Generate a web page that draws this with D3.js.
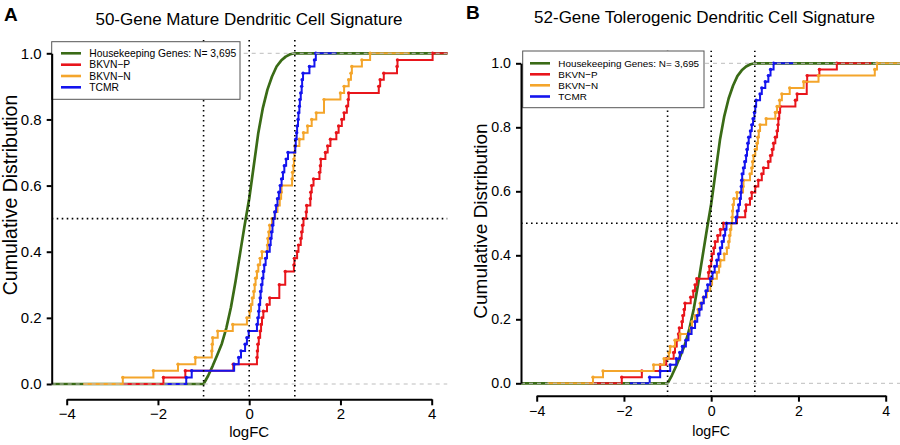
<!DOCTYPE html>
<html><head><meta charset="utf-8">
<script src="https://cdn.jsdelivr.net/npm/d3@7"></script>
<style>
body{margin:0;background:#fff}
svg{display:block}
text{font-family:"Liberation Sans",Arial,Helvetica,sans-serif;fill:#000}
</style>
</head><body>
<svg id="c" width="900" height="445"></svg>
<script>
// ---------------- data ----------------
const panelLetters = ["A", "B"];
const panelTitles = ["50-Gene Mature Dendritic Cell Signature", "52-Gene Tolerogenic Dendritic Cell Signature"];
const legendLabels = ["Housekeeping Genes: N= 3,695", "BKVN\u2212P", "BKVN\u2212N", "TCMR"];
const xAxisLabel = "logFC";
const yAxisLabel = "Cumulative Distribution";
const xTicks = [-4, -2, 0, 2, 4];
const yTicks = [0, 0.2, 0.4, 0.6, 0.8, 1.0];
const refLinesX = [-1, 0, 1];
const refLineY = [0.5];
const gridLinesY = [0, 1];

const housekeepingX = [-1.0, -0.9, -0.8, -0.7, -0.6, -0.5, -0.4, -0.3, -0.2, -0.1, 0.0, 0.1, 0.2, 0.3, 0.4, 0.5, 0.6, 0.7, 0.8, 0.9, 1.0];
const housekeepingY = [0, 0.025, 0.055, 0.088, 0.122, 0.17, 0.232, 0.31, 0.395, 0.48, 0.56, 0.66, 0.76, 0.835, 0.89, 0.93, 0.96, 0.978, 0.99, 0.997, 1.0];

// Panel A: 50-gene mature DC signature, logFC per gene
const matureBKVNP = [-1.88,-1.40,-0.35,0.17,0.18,0.19,0.21,0.24,0.26,0.28,0.31,0.39,0.45,0.66,0.66,0.79,0.79,0.98,0.99,1.05,1.08,1.13,1.15,1.17,1.19,1.25,1.26,1.34,1.35,1.37,1.41,1.54,1.56,1.57,1.67,1.72,1.78,1.91,1.96,2.03,2.08,2.14,2.17,2.18,2.84,2.87,2.95,3.24,3.25,4.02];
const matureBKVNN = [-2.77,-2.10,-1.56,-1.18,-0.82,-0.81,-0.80,-0.69,-0.36,-0.05,0.01,0.04,0.07,0.10,0.12,0.14,0.17,0.20,0.24,0.28,0.40,0.41,0.43,0.45,0.50,0.57,0.62,0.67,0.70,0.71,0.94,0.95,0.97,0.98,0.99,1.00,1.10,1.19,1.28,1.37,1.47,1.64,1.64,2.00,2.08,2.18,2.23,2.25,2.47,2.65];
const matureTCMR = [-1.38,-1.26,-0.33,-0.23,-0.18,-0.09,-0.05,-0.01,0.17,0.19,0.21,0.22,0.24,0.25,0.27,0.29,0.31,0.33,0.36,0.39,0.45,0.47,0.49,0.51,0.53,0.56,0.59,0.62,0.65,0.68,0.71,0.74,0.77,0.81,0.85,1.01,1.02,1.04,1.05,1.07,1.08,1.10,1.11,1.13,1.15,1.16,1.18,1.32,1.43,1.46];

// Panel B: 52-gene tolerogenic DC signature, logFC per gene
const tolBKVNP = [-2.05,-1.59,-1.17,-1.03,-0.86,-0.83,-0.79,-0.75,-0.73,-0.67,-0.65,-0.62,-0.60,-0.47,-0.41,-0.37,-0.33,-0.06,-0.04,0.00,0.02,0.06,0.09,0.15,0.21,0.28,0.59,0.78,0.80,0.89,0.93,1.01,1.08,1.16,1.20,1.31,1.36,1.40,1.43,1.47,1.51,1.53,1.54,1.56,1.58,1.93,1.97,2.19,2.19,2.20,2.48,2.88];
const tolBKVNN = [-2.71,-2.48,-1.32,-1.08,-0.97,-0.94,-0.83,-0.71,-0.47,-0.44,-0.37,-0.30,-0.25,-0.18,-0.10,-0.02,0.02,0.13,0.18,0.21,0.30,0.36,0.40,0.42,0.44,0.46,0.48,0.49,0.50,0.52,0.59,0.73,0.74,0.89,0.93,0.95,0.97,1.01,1.05,1.07,1.09,1.12,1.26,1.47,1.51,1.57,1.62,1.80,2.12,2.46,3.75,3.80];
const tolTCMR = [-1.41,-1.17,-0.94,-0.80,-0.72,-0.66,-0.58,-0.52,-0.45,-0.37,-0.32,-0.27,-0.22,-0.17,-0.12,-0.08,-0.02,0.03,0.08,0.13,0.17,0.21,0.25,0.29,0.32,0.35,0.57,0.60,0.63,0.66,0.68,0.69,0.70,0.71,0.74,0.77,0.80,0.82,0.84,0.86,0.90,0.93,0.96,0.99,1.01,1.03,1.12,1.16,1.24,1.31,1.36,1.43];

// ---------------- styles / layout ----------------
const colors = {house:"#3a6b16", p:"#e8151b", n:"#f4a52b", t:"#1414ee"};
const seriesColors = [colors.house, colors.p, colors.n, colors.t];

const layouts = [
  {x0:66.7, x1:431.7, yB:384, yT:53.3, left:51.7, right:447.5, top:40, bottom:397.5, xAxisY:399.3,
   fs:15, titleFs:17, titleX:249, titleY:25, letterX:4, letterY:21, ylabX:16.5, ylabFs:19.5, ylabY:195, xlabY:437,
   xTickPad:3,
   leg:{x:51.7, y:41.7, w:188.3, h:57.6, lx0:61, lx1:81, tx:89.3, rows:[53.3,64.7,76,87.3], fs:10.3},
   data:[matureBKVNP, matureBKVNN, matureTCMR]},
  {x0:536.7, x1:885.7, yB:383.3, yT:63.3, left:521, right:900, top:50.5, bottom:396, xAxisY:395.7,
   fs:14.2, titleFs:17, titleX:704.5, titleY:23, letterX:466, letterY:19, ylabX:487, ylabFs:19, ylabY:221, xlabY:436,
   xTickPad:4.5,
   leg:{x:522.7, y:51, w:181.3, h:56.7, lx0:530, lx1:550, tx:558.3, rows:[63.3,74.3,85.3,96.5], fs:9.9},
   data:[tolBKVNP, tolBKVNN, tolTCMR]}
];

const svg = d3.select("#c");
const defs = svg.append("defs");

function ecdfSteps(vals){
  const v = vals.slice().sort(d3.ascending);
  const n = v.length;
  const knots = Array.from(new Set(v));
  const F = knots.map(k => v.filter(d => d <= k).length / n);
  const rx = [knots[0], knots[knots.length-1]];
  const diffs = d3.pairs(knots).map(([a,b]) => b - a);
  const dr = Math.max(0.08 * (rx[1]-rx[0]), d3.median(diffs));
  const pts = [[rx[0] - 2*dr, 0]];
  let prev = 0;
  knots.forEach((k,i) => { pts.push([k, prev]); pts.push([k, F[i]]); prev = F[i]; });
  pts.push([rx[1] + 2*dr, 1]);
  return {pts, knots, F};
}

layouts.forEach((L, pi) => {
  const x = d3.scaleLinear().domain([-4, 4]).range([L.x0, L.x1]);
  const y = d3.scaleLinear().domain([0, 1]).range([L.yB, L.yT]);
  const clipId = "clip" + pi;
  defs.append("clipPath").attr("id", clipId).append("rect")
    .attr("x", L.left).attr("y", L.top).attr("width", L.right - L.left).attr("height", L.bottom - L.top);
  const g = svg.append("g");
  const plot = g.append("g").attr("clip-path", `url(#${clipId})`);
  const line = d3.line().x(d => x(d[0])).y(d => y(d[1]));

  // housekeeping curve, extended flat to the plot edges
  const hk = [[x.invert(L.left) - 0.1, 0]].concat(housekeepingX.map((d,i) => [d, housekeepingY[i]])).concat([[x.invert(L.right) + 0.1, 1]]);
  plot.append("path").attr("d", line(hk)).attr("fill","none")
    .attr("stroke", colors.house).attr("stroke-width", 2.7).attr("stroke-linejoin","round");

  // step ECDFs
  L.data.forEach((vals, si) => {
    const col = seriesColors[si+1];
    const e = ecdfSteps(vals);
    plot.append("path").attr("d", line(e.pts)).attr("fill","none")
      .attr("stroke", col).attr("stroke-width", 2);
    plot.append("g").selectAll("circle").data(e.knots.map((k,i)=>[k, e.F[i]])).join("circle")
      .attr("cx", d => x(d[0])).attr("cy", d => y(d[1])).attr("r", 1.7).attr("fill", col);
  });

  // legend
  const lg = g.append("g");
  lg.append("rect").attr("x", L.leg.x).attr("y", L.leg.y).attr("width", L.leg.w).attr("height", L.leg.h)
    .attr("fill","#fff").attr("stroke","#555").attr("stroke-width",1);
  legendLabels.forEach((lab, i) => {
    lg.append("line").attr("x1", L.leg.lx0).attr("x2", L.leg.lx1).attr("y1", L.leg.rows[i]).attr("y2", L.leg.rows[i])
      .attr("stroke", seriesColors[i]).attr("stroke-width", 2.6);
    lg.append("text").attr("x", L.leg.tx).attr("y", L.leg.rows[i]).attr("dy","0.36em")
      .attr("font-size", L.leg.fs).attr("fill","#222").text(lab);
  });

  // grey dashed reference at 0 and 1
  plot.append("g").selectAll("line").data(gridLinesY).join("line")
    .attr("x1", L.left).attr("x2", L.right).attr("y1", d => y(d)).attr("y2", d => y(d))
    .attr("stroke","#bdbdbd").attr("stroke-width",1).attr("stroke-dasharray","4,4");

  // dotted reference lines
  plot.append("g").selectAll("line").data(refLinesX).join("line")
    .attr("x1", d => x(d)).attr("x2", d => x(d)).attr("y1", L.top).attr("y2", L.bottom)
    .attr("stroke","#000").attr("stroke-width",1.6).attr("stroke-dasharray","1.6,3.4");
  plot.append("g").selectAll("line").data(refLineY).join("line")
    .attr("x1", L.left).attr("x2", L.right).attr("y1", d => y(d)).attr("y2", d => y(d))
    .attr("stroke","#000").attr("stroke-width",1.6).attr("stroke-dasharray","1.6,3.4");

  // axes
  const xa = g.append("g").attr("transform", `translate(0,${L.xAxisY})`)
    .call(d3.axisBottom(x).tickValues(xTicks).tickSize(6).tickSizeOuter(0).tickPadding(L.xTickPad));
  const ya = g.append("g").attr("transform", `translate(${L.left},0)`)
    .call(d3.axisLeft(y).tickValues(yTicks).tickFormat(d3.format(".1f")).tickSize(5).tickSizeOuter(0).tickPadding(5));
  [xa, ya].forEach(a => {
    a.select(".domain").attr("stroke","#000").attr("stroke-width",2);
    a.selectAll(".tick line").attr("stroke","#000").attr("stroke-width",2);
    a.selectAll(".tick text").attr("font-size", L.fs).attr("fill","#111")
      .style("font-family",'"Liberation Sans",Arial,sans-serif');
  });

  // labels
  g.append("text").attr("x", L.titleX).attr("y", L.titleY).attr("text-anchor","middle")
    .attr("font-size", L.titleFs).text(panelTitles[pi]);
  g.append("text").attr("x", L.letterX).attr("y", L.letterY).attr("font-size", 19).attr("font-weight","bold").text(panelLetters[pi]);
  g.append("text").attr("x", (L.x0 + L.x1)/2).attr("y", L.xlabY).attr("text-anchor","middle")
    .attr("font-size", L.fs).text(xAxisLabel);
  g.append("text").attr("transform", `translate(${L.ylabX},${L.ylabY}) rotate(-90)`).attr("text-anchor","middle")
    .attr("font-size", L.ylabFs).text(yAxisLabel);
});
</script>
</body></html>
